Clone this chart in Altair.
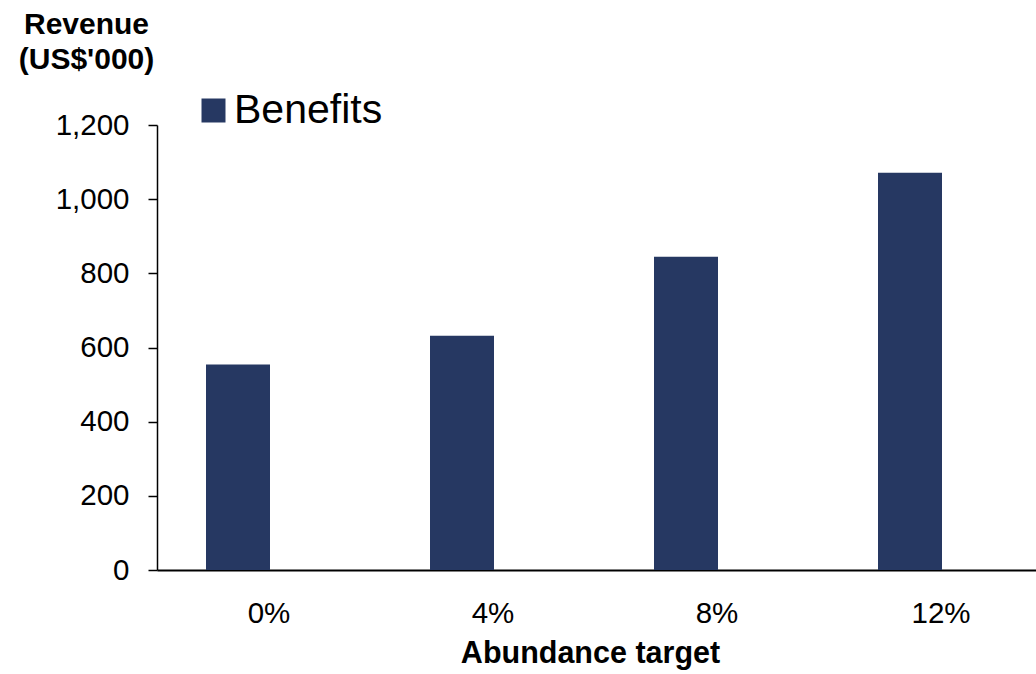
import altair as alt
import pandas as pd

categories = ["0%", "4%", "8%", "12%"]
revenue = [554, 632, 845, 1071]
series = ["Benefits"] * 4

df = pd.DataFrame({"target": categories, "revenue": revenue, "series": series})

FONT = "Liberation Sans"

bars = alt.Chart(df).mark_bar(width=64, xOffset=-31, color="#263862").encode(
    x=alt.X(
        "target:N",
        sort=categories,
        scale=alt.Scale(range=[0, 896], paddingInner=0, paddingOuter=0),
        axis=alt.Axis(
            title="Abundance target",
            titleFont=FONT,
            titleFontSize=30.5,
            titleFontWeight="bold",
            titleColor="black",
            titleX=433,
            titleY=92,
            titleBaseline="alphabetic",
            titleAlign="center",
            labelFont=FONT,
            labelFontSize=29.5,
            labelColor="black",
            labelPadding=29,
            labelAngle=0,
            ticks=False,
            domainColor="black",
            domainWidth=2,
        ),
    ),
    y=alt.Y(
        "revenue:Q",
        scale=alt.Scale(domain=[0, 1200], nice=False),
        axis=alt.Axis(
            values=[0, 200, 400, 600, 800, 1000, 1200],
            format=",d",
            title=["Revenue", "(US$'000)"],
            titleFont=FONT,
            titleFontSize=30,
            titleFontWeight="bold",
            titleColor="black",
            titleAngle=0,
            titleAlign="center",
            titleBaseline="alphabetic",
            titleX=-71,
            titleY=-92,
            titleLineHeight=35,
            labelFont=FONT,
            labelFontSize=29.5,
            labelColor="black",
            labelPadding=19,
            tickSize=9,
            tickColor="black",
            tickWidth=1.5,
            domainColor="black",
            domainWidth=1.5,
            grid=False,
        ),
    ),
    fill=alt.Fill(
        "series:N",
        scale=alt.Scale(range=["#263862"]),
        legend=alt.Legend(
            title=None,
            orient="none",
            legendX=36,
            legendY=-35,
            symbolType="square",
            symbolSize=576,
            symbolStrokeWidth=0,
            labelFont=FONT,
            labelFontSize=41,
            labelColor="black",
            labelOffset=0,
            padding=0,
        ),
    ),
)

chart = bars.properties(
    width=879,
    height=445,
    background="white",
    autosize=alt.AutoSizeParams(type="none"),
    padding={"left": 157, "top": 125, "right": 0, "bottom": 104},
).configure_view(stroke=None)

chart.save("out.html", embed_options={"renderer": "svg", "actions": False})
